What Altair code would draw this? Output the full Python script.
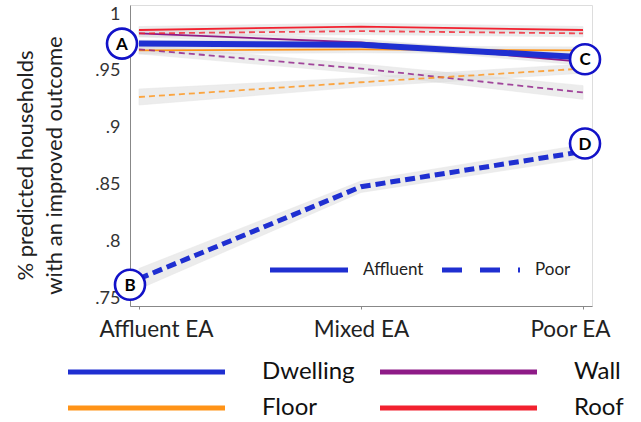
import altair as alt
import pandas as pd

# x categories and groupings
categories = ["Affluent EA", "Mixed EA", "Poor EA"]
outcomes = ["Dwelling", "Floor", "Wall", "Roof"]
household_types = ["Affluent", "Poor"]
outcome_colors = ["#1f2fd1", "#ff9317", "#8e1b87", "#f2212f"]

# predicted share of households with an improved outcome
dwelling_affluent = [0.974, 0.973, 0.962]
dwelling_poor = [0.767, 0.848, 0.879]
wall_affluent = [0.983, 0.975, 0.958]
wall_poor = [0.969, 0.952, 0.931]
floor_affluent = [0.968, 0.969, 0.968]
floor_poor = [0.927, 0.940, 0.952]
roof_affluent = [0.986, 0.989, 0.986]
roof_poor = [0.983, 0.985, 0.983]

# half-widths of the confidence bands
dwelling_affluent_ci = [0.003, 0.003, 0.003]
dwelling_poor_ci = [0.009, 0.005, 0.006]
wall_affluent_ci = [0.003, 0.003, 0.003]
wall_poor_ci = [0.004, 0.004, 0.006]
floor_affluent_ci = [0.003, 0.003, 0.003]
floor_poor_ci = [0.007, 0.004, 0.004]
roof_affluent_ci = [0.003, 0.003, 0.003]
roof_poor_ci = [0.003, 0.003, 0.003]

series = {
    ("Dwelling", "Affluent"): (dwelling_affluent, dwelling_affluent_ci),
    ("Dwelling", "Poor"): (dwelling_poor, dwelling_poor_ci),
    ("Wall", "Affluent"): (wall_affluent, wall_affluent_ci),
    ("Wall", "Poor"): (wall_poor, wall_poor_ci),
    ("Floor", "Affluent"): (floor_affluent, floor_affluent_ci),
    ("Floor", "Poor"): (floor_poor, floor_poor_ci),
    ("Roof", "Affluent"): (roof_affluent, roof_affluent_ci),
    ("Roof", "Poor"): (roof_poor, roof_poor_ci),
}

rows = []
for (outcome, htype), (vals, cis) in series.items():
    for cat, v, c in zip(categories, vals, cis):
        rows.append({
            "category": cat, "outcome": outcome, "household": htype,
            "series": f"{outcome} {htype}", "value": v,
            "lo": v - c, "hi": v + c,
        })
df = pd.DataFrame(rows)

# circled markers on the dwelling series
marker_labels = ["A", "B", "C", "D"]
markers = pd.DataFrame([
    {"label": "A", "category": categories[0], "value": dwelling_affluent[0]},
    {"label": "B", "category": categories[0], "value": dwelling_poor[0]},
    {"label": "C", "category": categories[2], "value": dwelling_affluent[2]},
    {"label": "D", "category": categories[2], "value": dwelling_poor[2]},
])
marker_shift = {"A": (-17, 0), "B": (-9, 6), "C": (2, 2), "D": (2, -8)}

FONT = "Lato"
BLUE = "#1212c8"
DWELLING_BLUE = "#1f2fd1"

x_enc = alt.X(
    "category:N", sort=categories,
    scale=alt.Scale(type="point", padding=0.0405),
    axis=alt.Axis(
        title=None, labelAngle=0, labelFont=FONT, labelFontSize=22.5,
        labelColor="#222", domainColor="#888", tickColor="#888",
        tickSize=3, labelPadding=9,
        labelOffset={
            "condition": [
                {"test": "datum.value === 'Affluent EA'", "value": 17},
                {"test": "datum.value === 'Poor EA'", "value": -13},
            ],
            "value": 0,
        },
    ),
)
y_enc = alt.Y(
    "value:Q",
    scale=alt.Scale(domain=[0.743, 1.008], nice=False, zero=False),
    axis=alt.Axis(
        values=[0.75, 0.8, 0.85, 0.9, 0.95, 1.0],
        labelExpr="replace(format(datum.value, '.2~f'), '0.', '.')",
        ticks=False, grid=False, domainColor="#888",
        labelFont=FONT, labelFontSize=18, labelColor="#333", labelPadding=10,
        title=["% predicted households", "with an improved outcome"],
        titleFont=FONT, titleFontSize=22, titleFontWeight="normal",
        titleColor="#222", titleLineHeight=29, titleX=-93, titleY=160,
    ),
)

color_enc = alt.Color(
    "outcome:N", scale=alt.Scale(domain=outcomes, range=outcome_colors),
    legend=alt.Legend(
        title=None, orient="none", legendX=-64.5, legendY=354, columns=2,
        symbolType="stroke", symbolSize=24649, symbolStrokeWidth=5,
        symbolDash=[1, 0], symbolOpacity=1,
        clipHeight=26, labelFont=FONT, labelFontSize=24, labelColor="#111",
        labelOffset=34.5, columnPadding=22, rowPadding=10, padding=0,
    ),
)

bands = alt.Chart(df).mark_area(
    color="#dadada", opacity=0.5, stroke="#d2d2d2", strokeWidth=0.6
).encode(x=x_enc, y=alt.Y("lo:Q"), y2="hi:Q", detail="series:N")

others = df[df["outcome"] != "Dwelling"]
thin_solid = alt.Chart(others[others["household"] == "Affluent"]).mark_line(
    strokeWidth=1.8
).encode(x=x_enc, y=y_enc, color=color_enc, detail="series:N")

thin_dashed = alt.Chart(others[others["household"] == "Poor"]).mark_line(
    strokeWidth=1.8, strokeDash=[6, 4], opacity=0.8
).encode(x=x_enc, y=y_enc, color=color_enc, detail="series:N")

dwelling_affluent_line = alt.Chart(
    df[(df["outcome"] == "Dwelling") & (df["household"] == "Affluent")]
).mark_line(strokeWidth=6).encode(x=x_enc, y=y_enc, color=color_enc)

dwelling_poor_line = alt.Chart(
    df[(df["outcome"] == "Dwelling") & (df["household"] == "Poor")]
).mark_line(strokeWidth=5, strokeDash=[10, 5]).encode(
    x=x_enc, y=y_enc, color=color_enc
)

# key for the household line styles (no rows drawn, only its legend)
style_key = alt.Chart(df).transform_filter("false").mark_line(
    color=DWELLING_BLUE, strokeWidth=5
).encode(
    x=x_enc, y=y_enc, detail="series:N",
    strokeDash=alt.StrokeDash(
        "household:N",
        scale=alt.Scale(domain=household_types, range=[[1, 0], [20, 18]]),
        legend=alt.Legend(
            title=None, orient="none", legendX=137.5, legendY=255,
            direction="horizontal", symbolType="stroke", symbolSize=6084,
            symbolStrokeWidth=5, symbolStrokeColor=DWELLING_BLUE,
            clipHeight=20, labelFont=FONT, labelFontSize=17,
            labelColor="#222", labelOffset=12.5, columnPadding=16,
            padding=0,
        ),
    ),
)

marker_layers = []
for lab in marker_labels:
    dx, dy = marker_shift[lab]
    sub = markers[markers["label"] == lab]
    ring = alt.Chart(sub).mark_point(
        shape="circle", size=900, filled=True, fill="white", fillOpacity=1,
        stroke=BLUE, strokeWidth=2.6, opacity=1, xOffset=dx, yOffset=dy,
    ).encode(x=x_enc, y=y_enc)
    letter = alt.Chart(sub).mark_text(
        font=FONT, fontSize=17, fontWeight="bold", color="#000",
        align="center", baseline="middle", xOffset=dx, yOffset=dy + 1,
    ).encode(x=x_enc, y=y_enc, text="label:N")
    marker_layers += [ring, letter]

chart = alt.layer(
    bands, thin_solid, thin_dashed, dwelling_affluent_line, dwelling_poor_line,
    style_key, *marker_layers
).properties(
    width=462, height=301,
    autosize=alt.AutoSizeParams(type="none"),
    padding={"left": 130, "top": 5, "right": 49, "bottom": 116},
).configure_view(stroke=None).configure(background="white")

chart.save("out.html", embed_options={"renderer": "svg", "actions": False})
